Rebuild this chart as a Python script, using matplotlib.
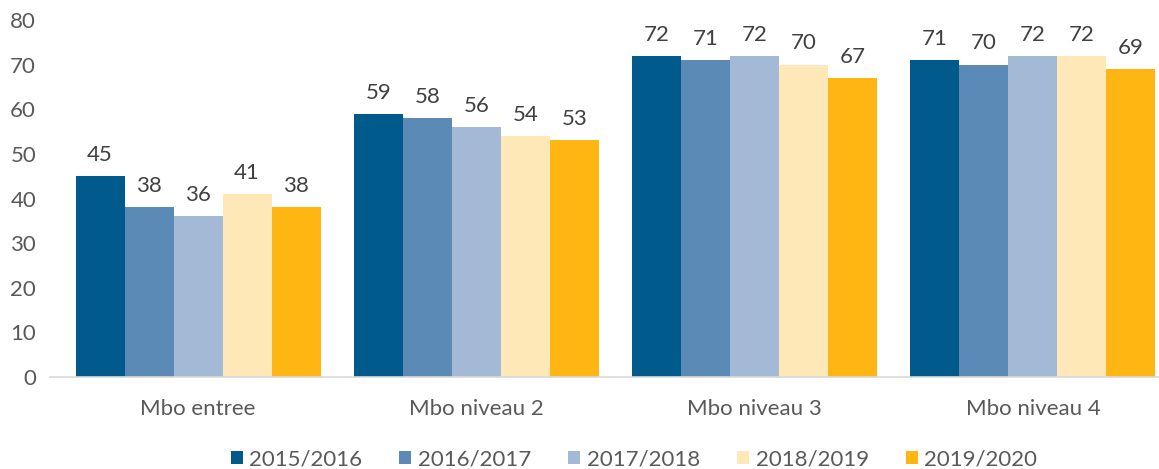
import matplotlib
matplotlib.use("Agg")
import matplotlib.pyplot as plt
import numpy as np

categorieen = ["Mbo entree", "Mbo niveau 2", "Mbo niveau 3", "Mbo niveau 4"]
jaren = ["2015/2016", "2016/2017", "2017/2018", "2018/2019", "2019/2020"]
waarden = [
    [45, 59, 72, 71],
    [38, 58, 71, 70],
    [36, 56, 72, 72],
    [41, 54, 70, 72],
    [38, 53, 67, 69],
]
kleuren = ["#005A8C", "#5A8AB5", "#A4B9D6", "#FFE8B8", "#FFB612"]

plt.rcParams["font.family"] = ["Lato", "DejaVu Sans"]
tekst = "#595959"

fig = plt.figure(figsize=(11.59, 4.69), dpi=100)
ax = fig.add_axes([50 / 1159, 1 - 377 / 469, 1109 / 1159, 357 / 469])

x = np.arange(len(categorieen))
breedte = 0.176
for i, (jaar, vals) in enumerate(zip(jaren, waarden)):
    pos = x + (i - 2) * breedte
    bars = ax.bar(pos, vals, width=breedte, color=kleuren[i], label=jaar)
    for b, v in zip(bars, vals):
        ax.text(b.get_x() + b.get_width() / 2, v + 2.5, str(v),
                ha="center", va="bottom", fontsize=16, color="#404040")

ax.set_xlim(-0.532, 3.453)
ax.set_ylim(0, 80)
ax.set_yticks(range(0, 81, 10))
ax.set_xticks(x)
ax.set_xticklabels(categorieen)
ax.tick_params(axis="both", length=0, labelsize=16, colors=tekst)
ax.tick_params(axis="x", pad=16)
ax.tick_params(axis="y", pad=10)
for s in ["top", "right", "left"]:
    ax.spines[s].set_visible(False)
ax.spines["bottom"].set_color("#D9D9D9")
ax.spines["bottom"].set_linewidth(1.2)

fig.legend(loc="center", bbox_to_anchor=(0.547, 0.02), ncol=5, frameon=False,
           fontsize=16, labelcolor=tekst, handlelength=0.55, handleheight=0.55,
           handletextpad=0.3, columnspacing=1.65)

fig.savefig("out.png", dpi=100)
